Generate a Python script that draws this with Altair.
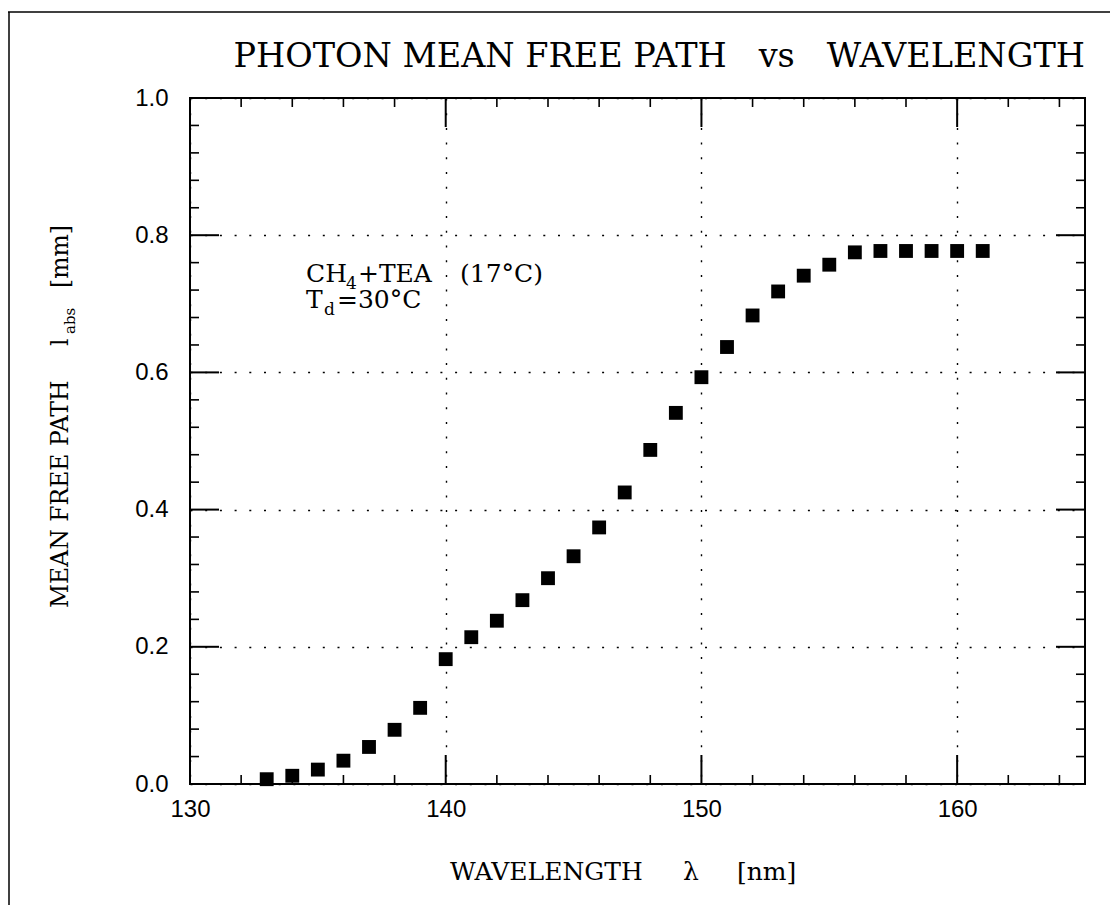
import altair as alt
import pandas as pd

# ---------------- data ----------------
wavelength = [133, 134, 135, 136, 137, 138, 139, 140, 141, 142, 143, 144, 145, 146, 147,
              148, 149, 150, 151, 152, 153, 154, 155, 156, 157, 158, 159, 160, 161]
mean_free_path = [0.007, 0.012, 0.021, 0.034, 0.054, 0.079, 0.111, 0.182, 0.214, 0.238,
                  0.268, 0.300, 0.332, 0.374, 0.425, 0.487, 0.541, 0.593, 0.637, 0.683,
                  0.718, 0.741, 0.757, 0.775, 0.777, 0.777, 0.777, 0.777, 0.777]

x_major = [130, 140, 150, 160]
x_minor = [132, 134, 136, 138, 142, 144, 146, 148, 152, 154, 156, 158, 162, 164]
y_major = [0.0, 0.2, 0.4, 0.6, 0.8, 1.0]
y_minor = [0.04, 0.08, 0.12, 0.16, 0.24, 0.28, 0.32, 0.36, 0.44, 0.48, 0.52, 0.56,
           0.64, 0.68, 0.72, 0.76, 0.84, 0.88, 0.92, 0.96]

title_text = "PHOTON MEAN FREE PATH\u00a0\u00a0\u00a0vs\u00a0\u00a0\u00a0WAVELENGTH"

# ---------------- layout ----------------
W, H = 895, 686
SERIF = "DejaVu Serif"
SANS = "Liberation Sans"

xs = alt.Scale(domain=[130, 165], nice=False, zero=False)
ys = alt.Scale(domain=[0, 1], nice=False, zero=False)

ax_x = alt.Axis(
    values=x_major, format="d", grid=True, ticks=False, domain=False,
    labelFlush=False, labelPadding=13, labelFont=SANS, labelFontSize=24,
    labelColor="black", gridColor="black", gridDash=[2, 12.7], gridWidth=1.4,
    gridOpacity=1, title=None)
ax_y = alt.Axis(
    values=y_major, format=".1f", grid=True, ticks=False, domain=False,
    labelFlush=False, labelPadding=22, labelFont=SANS, labelFontSize=24,
    labelColor="black", gridColor="black", gridDash=[2, 12.7], gridWidth=1.4,
    gridOpacity=1, title=None)

df = pd.DataFrame({"wl": wavelength, "mfp": mean_free_path})

points = alt.Chart(df).mark_square(size=192, color="black", opacity=1).encode(
    x=alt.X("wl:Q", scale=xs, axis=ax_x),
    y=alt.Y("mfp:Q", scale=ys, axis=ax_y),
)


def xticks(vals, y0, y1, sw):
    return alt.Chart(pd.DataFrame({"t": vals})).mark_rule(color="black", strokeWidth=sw).encode(
        x=alt.X("t:Q", scale=xs, axis=ax_x), y=alt.value(y0), y2=alt.value(y1))


def yticks(vals, x0, x1, sw):
    return alt.Chart(pd.DataFrame({"t": vals})).mark_rule(color="black", strokeWidth=sw).encode(
        y=alt.Y("t:Q", scale=ys, axis=ax_y), x=alt.value(x0), x2=alt.value(x1))


ticks = [
    xticks(x_major, H, H - 29, 2), xticks(x_major, 0, 29, 2),
    xticks(x_minor, H, H - 9, 1.6), xticks(x_minor, 0, 9, 1.6),
    yticks(y_major, 0, 29, 2), yticks(y_major, W, W - 29, 2),
    yticks(y_minor, 0, 9, 1.6), yticks(y_minor, W, W - 9, 1.6),
]


def label(txt, x, y, size, font=SERIF, align="left", angle=0, baseline="alphabetic"):
    return alt.Chart(pd.DataFrame({"t": [txt]})).mark_text(
        font=font, fontSize=size, align=align, baseline=baseline, angle=angle,
        color="black").encode(text="t:N", x=alt.value(x), y=alt.value(y))


texts = [
    # title
    label(title_text, W, -31, 33.5, align="right"),
    # x-axis title
    label("WAVELENGTH", 260, 782, 25),
    label("\u03bb", 493, 782, 25),
    label("[nm]", 547, 782, 25),
    # y-axis title (rotated)
    label("MEAN FREE PATH", -122, 510, 23.5, angle=270),
    label("l", -122, 248, 23.5, angle=270),
    label("abs", -115, 236, 15, angle=270),
    label("[mm]", -122, 190, 23.5, angle=270),
    # annotation
    label("CH", 116, 184, 25),
    label("4", 156, 191, 17),
    label("+TEA", 168, 184, 25),
    label("(17\u00b0C)", 270, 184, 25),
    label("T", 116, 210, 25),
    label("d", 134, 217, 17),
    label("=30\u00b0C", 147, 210, 25),
]

frame_top = alt.Chart(pd.DataFrame({"t": [0]})).mark_rule(color="black", strokeWidth=1.5).encode(
    x=alt.value(-182), x2=alt.value(W + 25), y=alt.value(-86))
frame_left = alt.Chart(pd.DataFrame({"t": [0]})).mark_rule(color="black", strokeWidth=1.5).encode(
    x=alt.value(-181), y=alt.value(-86), y2=alt.value(H + 121))

chart = alt.layer(points, *ticks, *texts, frame_top, frame_left).properties(
    width=W, height=H,
    padding={"left": 182, "top": 90, "right": 25, "bottom": 121},
    autosize=alt.AutoSizeParams(type="none"),
).configure_view(stroke="black", strokeWidth=2)

chart.save("out.html", embed_options={"renderer": "svg", "actions": False})
